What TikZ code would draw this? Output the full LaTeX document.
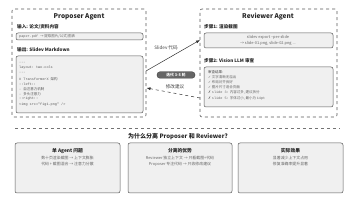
\documentclass[tikz,border=0pt]{standalone}
\usepackage{fontspec}
\setmainfont{Noto Sans CJK SC}
\setmonofont{Liberation Mono}
\newfontfamily\cjk{Noto Sans CJK SC}
\newfontfamily\symf{DejaVu Sans}
\usetikzlibrary{arrows.meta}
\begin{document}
\begin{tikzpicture}[x=1pt,y=-1pt,
  agentbox/.style={draw=black!65, dashed, rounded corners=2pt, line width=0.6pt},
  graybox/.style={draw=black!65, fill=black!6, rounded corners=2pt, line width=0.5pt},
  ttl/.style={font=\fontsize{6.5}{7}\selectfont\bfseries, text=black!85},
  lbl/.style={font=\fontsize{4.6}{5}\selectfont\bfseries, text=black!85, anchor=west, inner sep=0},
  small/.style={font=\fontsize{3.9}{4.4}\selectfont, text=black!60, inner sep=0},
  code/.style={font=\fontsize{3.5}{4}\selectfont\ttfamily, text=black!65, anchor=west, inner sep=0},
  arr/.style={-{Latex[length=4pt,width=3pt]}, line width=0.5pt, draw=black!80}]
\useasboundingbox (0,0) rectangle (356,200);
\fill[white] (0,0) rectangle (356,200);

% Proposer
\node[agentbox, minimum width=134pt, minimum height=108pt] (prop) at (79,63) {};
\node[ttl] (propt) at (79,17) {Proposer Agent};
\node[lbl] (pin) at (17,27) {输入: 论文/资料内容};
\node[graybox, minimum width=127pt, minimum height=7pt] (pinbox) at (79.5,36.5) {};
\node[small, anchor=west, font=\fontsize{3.5}{4}\selectfont] (pintxt) at (19,36.5) {\ttfamily paper.pdf {\cjk → 提取图片/公式/图表}};
\node[lbl] (pout) at (17,50) {输出: Slidev Markdown};
\node[graybox, minimum width=127pt, minimum height=57pt] (codebox) at (79.5,84.5) {};
\node[code] (c1) at (19,63) {---};
\node[code] (c2) at (19,68) {layout: two-cols};
\node[code] (c3) at (19,73) {---};
\node[code] (c4) at (19,79) {\# TransformerX {\cjk 架构}};
\node[code] (c5) at (19,84) {::left::};
\node[code] (c6) at (19,89) {- {\cjk 自注意力机制}};
\node[code] (c7) at (19,94) {- {\cjk 多头注意力}};
\node[code] (c8) at (19,99) {::right::};
\node[code] (c9) at (19,105) {<img src="fig1.png" />};

% Reviewer
\node[agentbox, minimum width=137pt, minimum height=108pt] (rev) at (268.5,63) {};
\node[ttl] (revt) at (268,17) {Reviewer Agent};
\node[lbl] (s1) at (204,27) {步骤1: 渲染截图};
\node[graybox, minimum width=129pt, minimum height=15pt] (s1box) at (268.5,40.5) {};
\node[small] (s1a) at (268,37.3) {slidev export --per-slide};
\node[small] (s1b) at (268,43.7) {→ slide-01.png, slide-02.png ...};
\node[lbl] (s2) at (204,61) {步骤2: Vision LLM 审查};
\node[graybox, minimum width=129pt, minimum height=40pt] (s2box) at (268.5,87) {};
\node[small, anchor=west, text=black!75, font=\fontsize{3.5}{4}\selectfont] (r0) at (208,72) {审查结果:};
\node[small, anchor=west, font=\fontsize{3.5}{4}\selectfont] (r1) at (208,77) {{\symf ✓} 文字清晰无溢出};
\node[small, anchor=west, font=\fontsize{3.5}{4}\selectfont] (r2) at (208,82) {{\symf ✓} 布局对齐良好};
\node[small, anchor=west, font=\fontsize{3.5}{4}\selectfont] (r3) at (208,87) {{\symf ✓} 图片尺寸适合页面};
\node[small, anchor=west, font=\fontsize{3.5}{4}\selectfont] (r4) at (208,92.5) {{\symf ✗} {\ttfamily slide 3:} 内容过多, 建议拆分};
\node[small, anchor=west, font=\fontsize{3.5}{4}\selectfont] (r5) at (208,98) {{\symf ✗} {\ttfamily slide 5:} 字体过小, 最小为 {\ttfamily 14pt}};

% connectors
\coordinate (pa) at (146,71);
\coordinate (ra) at (200,40);
\draw[arr] (pa) -- (ra);
\node[font=\fontsize{4.6}{5}\selectfont, text=black!75] (lab1) at (166,48) {Slidev 代码};
\node[fill=black!60, draw=black!75, rounded corners=3pt, minimum width=38pt, minimum height=6.5pt, inner sep=0, text=white, font=\fontsize{3.8}{4}\selectfont\bfseries] (pill) at (176,75) {迭代 3-5 轮};
\coordinate (rb) at (200,98);
\coordinate (pb) at (146.5,88);
\draw[arr, dashed] (rb) -- (pb);
\node[font=\fontsize{4.6}{5}\selectfont, text=black!75] (lab2) at (175,86.5) {修改建议};

% separator
\coordinate (sepL) at (15,128);
\coordinate (sepR) at (340,128);
\draw[dashed, black!55, line width=0.4pt] (sepL) -- (sepR);
\node[font=\fontsize{6}{7}\selectfont\bfseries, text=black!85] (why) at (178,137) {为什么分离 Proposer 和 Reviewer?};

% bottom boxes
\node[graybox, minimum width=105pt, minimum height=50pt] (b1) at (67.5,168) {};
\node[graybox, minimum width=104pt, minimum height=50pt] (b2) at (180,168) {};
\node[graybox, minimum width=105pt, minimum height=50pt] (b3) at (290.5,168) {};
\node[font=\fontsize{4.8}{5}\selectfont\bfseries, text=black!85] (b1t) at (67.5,151) {单 Agent 问题};
\node[small] (b1a) at (67.5,158) {数十页渲染截图 → 上下文膨胀};
\node[small] (b1b) at (67.5,164.5) {代码 + 截图混合 → 注意力分散};
\node[font=\fontsize{4.8}{5}\selectfont\bfseries, text=black!85] (b2t) at (180,151) {分离的优势};
\node[small] (b2a) at (180,158) {Reviewer 独立上下文 → 只看截图+代码};
\node[small] (b2b) at (180,164.5) {Proposer 专注代码 → 只收修改建议};
\node[font=\fontsize{4.8}{5}\selectfont\bfseries, text=black!85] (b3t) at (290.5,151) {实际效果};
\node[small] (b3a) at (290.5,158) {显著减少上下文占用};
\node[small] (b3b) at (290.5,164.5) {修复准确率提升显著};
\end{tikzpicture}
\end{document}
